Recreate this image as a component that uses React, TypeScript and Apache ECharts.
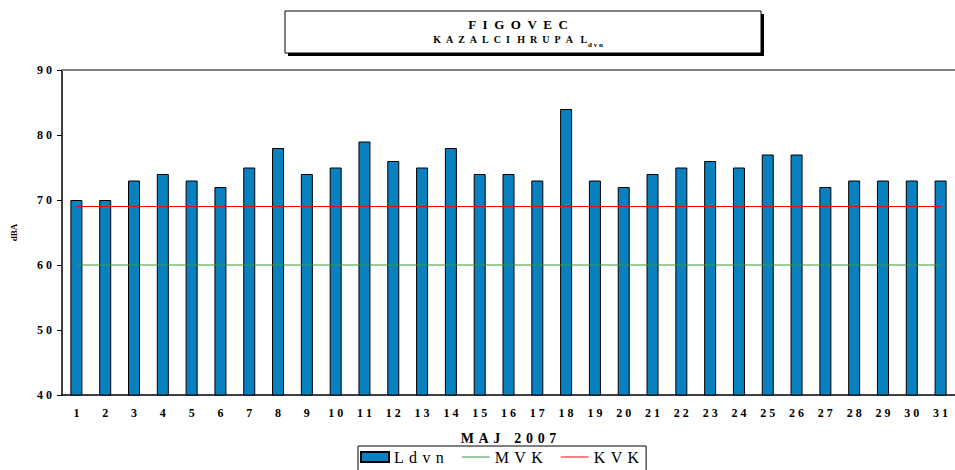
import React, { useEffect, useRef } from "react";
import * as echarts from "echarts";

const days = ["1","2","3","4","5","6","7","8","9","10","11","12","13","14","15","16","17","18","19","20","21","22","23","24","25","26","27","28","29","30","31"];
const ldvn = [70,70,73,74,73,72,75,78,74,75,79,76,75,78,74,74,73,84,73,72,74,75,76,75,77,77,72,73,73,73,73];
const mvk = [60,60,60,60,60,60,60,60,60,60,60,60,60,60,60,60,60,60,60,60,60,60,60,60,60,60,60,60,60,60,60];
const kvk = [69,69,69,69,69,69,69,69,69,69,69,69,69,69,69,69,69,69,69,69,69,69,69,69,69,69,69,69,69,69,69];

const SERIF = "'Liberation Serif', 'Times New Roman', serif";
const spaced = (s: string, sep = " ") => String(s).split("").join(sep);
const LINE_ICON = "path://M0,0M0,4.5H28V5.5H0ZM28,10";
const SP = "\u2004";

export default function App() {
  const ref = useRef<HTMLDivElement>(null);
  useEffect(() => {
    if (!ref.current) return;
    const chart = echarts.init(ref.current, null, { renderer: "svg" });
    chart.setOption({
      animation: false,
      backgroundColor: "#ffffff",
      grid: { left: 62, top: 70, width: 899, height: 325 },
      legend: {
        left: 358,
        top: 446,
        itemGap: 18,
        itemWidth: 28,
        itemHeight: 10,
        borderColor: "#000",
        borderWidth: 1,
        padding: [3, 7, 6, 2],
        formatter: (n: string) => spaced(n, SP),
        textStyle: { fontFamily: SERIF, fontSize: 16, color: "#000" },
        data: [
          { name: "Ldvn", icon: "rect" },
          { name: "MVK", icon: LINE_ICON },
          { name: "KVK", icon: LINE_ICON },
        ],
      },
      xAxis: [
        {
          type: "category",
          data: days,
          axisLine: { lineStyle: { color: "#000", width: 1.5 } },
          axisTick: { length: 5, lineStyle: { color: "#000" } },
          axisLabel: {
            fontFamily: SERIF,
            fontWeight: "bold",
            fontSize: 12,
            color: "#000",
            margin: 12,
            formatter: (v: string) => spaced(v),
          },
          name: spaced("MAJ", SP) + SP + SP + SP + spaced("2007", SP),
          nameLocation: "middle",
          nameGap: 36,
          nameTextStyle: { fontFamily: SERIF, fontWeight: "bold", fontSize: 14, color: "#000" },
        },
        {
          type: "category",
          data: days,
          position: "top",
          axisLine: { lineStyle: { color: "#808080", width: 2 } },
          axisTick: { show: false },
          axisLabel: { show: false },
        },
      ],
      yAxis: {
        type: "value",
        min: 40,
        max: 90,
        interval: 10,
        axisLine: { show: true, lineStyle: { color: "#000", width: 1.5 } },
        axisTick: { show: true, length: 5, lineStyle: { color: "#000" } },
        splitLine: { show: false },
        axisLabel: {
          fontFamily: SERIF,
          fontWeight: "bold",
          fontSize: 12,
          color: "#000",
          margin: 10,
          formatter: (v: number) => spaced(String(v)),
        },
        name: "dBA",
        nameLocation: "middle",
        nameGap: 44,
        nameRotate: 90,
        nameTextStyle: { fontFamily: SERIF, fontWeight: "bold", fontSize: 9, color: "#000" },
      },
      series: [
        {
          name: "Ldvn",
          type: "bar",
          data: ldvn,
          barWidth: 12,
          itemStyle: { color: "#0a80c0", borderColor: "#000", borderWidth: 1 },
        },
        {
          name: "MVK",
          type: "line",
          data: mvk,
          symbol: "none",
          lineStyle: { color: "#3a9a3a", width: 1 },
          itemStyle: { color: "#3a9a3a" },
        },
        {
          name: "KVK",
          type: "line",
          data: kvk,
          symbol: "none",
          lineStyle: { color: "#ff0000", width: 1 },
          itemStyle: { color: "#ff0000" },
        },
      ],
      graphic: [
        { type: "rect", shape: { x: 288, y: 14, width: 476, height: 42 }, style: { fill: "#000" } },
        { type: "rect", shape: { x: 285, y: 11, width: 476, height: 42 }, style: { fill: "#fff", stroke: "#000", lineWidth: 1 } },
        {
          type: "text",
          x: 518,
          y: 18,
          style: {
            text: spaced("FIGOVEC", "\u2002"),
            fontFamily: SERIF,
            fontWeight: "bold",
            fontSize: 13,
            fill: "#000",
            align: "center",
            verticalAlign: "top",
          },
        },
        {
          type: "text",
          x: 518,
          y: 34,
          style: {
            text: "{a|" + spaced("KAZALCI", "\u2002") + "\u2002 " + spaced("HRUPA", "\u2002") + "\u2002 L}{b|d v n}",
            align: "center",
            verticalAlign: "top",
            rich: {
              a: { fontFamily: SERIF, fontWeight: "bold", fontSize: 10, fill: "#000", lineHeight: 14, verticalAlign: "top" },
              b: { fontFamily: SERIF, fontWeight: "bold", fontSize: 7, fill: "#000", lineHeight: 14, verticalAlign: "bottom", padding: [5, 0, 0, 1] },
            },
          },
        },
      ],
    });
    return () => chart.dispose();
  }, []);
  return <div ref={ref} style={{ position: "fixed", left: 0, top: 0, width: 955, height: 470 }} />;
}
